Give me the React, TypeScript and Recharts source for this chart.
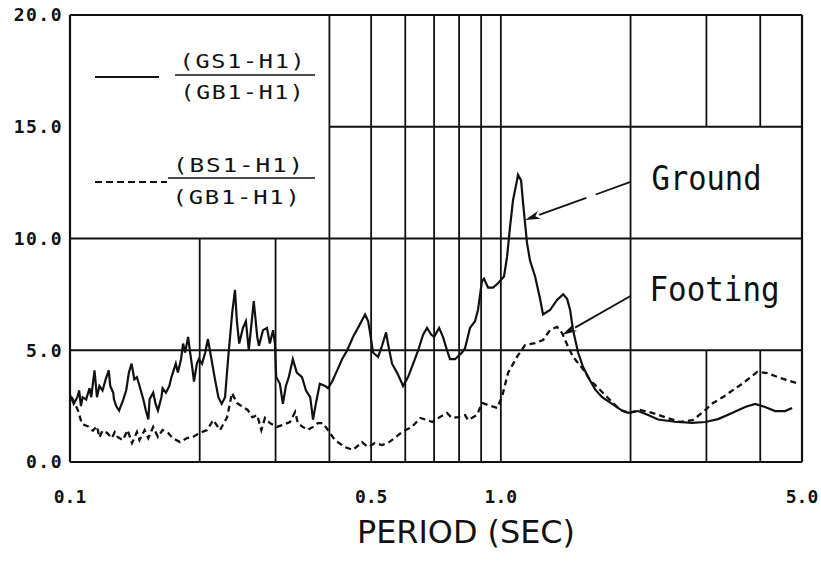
import React from 'react';
import { LineChart, Line, XAxis, YAxis, ReferenceLine, ReferenceArea } from 'recharts';

// ---- data ----
const GROUND_PERIOD = [
  0.1, 0.102, 0.104, 0.105, 0.106, 0.107, 0.109, 0.111, 0.112, 0.114, 0.1155, 0.117, 0.119, 0.121, 0.123, 0.124,
  0.126, 0.1265, 0.128, 0.13, 0.133, 0.135, 0.137, 0.139, 0.141, 0.143, 0.145, 0.148, 0.15, 0.152, 0.153, 0.156,
  0.158, 0.16, 0.163, 0.164, 0.167, 0.17, 0.172, 0.174, 0.176, 0.178, 0.181, 0.183, 0.185, 0.188, 0.19, 0.192,
  0.194, 0.197, 0.199, 0.2025, 0.206, 0.209, 0.2125, 0.217, 0.221, 0.225, 0.229, 0.233, 0.238, 0.2415, 0.244,
  0.247, 0.252, 0.256, 0.26, 0.267, 0.272, 0.2745, 0.2805, 0.2865, 0.291, 0.296, 0.299, 0.301, 0.307, 0.312,
  0.317, 0.322, 0.329, 0.336, 0.3455, 0.353, 0.361, 0.3665, 0.372, 0.38, 0.391, 0.397, 0.406, 0.417, 0.428,
  0.44, 0.454, 0.466, 0.484, 0.492, 0.497, 0.505, 0.519, 0.53, 0.5415, 0.547, 0.559, 0.574, 0.587, 0.593,
  0.609, 0.626, 0.643, 0.66, 0.674, 0.689, 0.7, 0.719, 0.734, 0.75, 0.762, 0.783, 0.8126, 0.826, 0.848, 0.871,
  0.885, 0.904, 0.914, 0.934, 0.959, 0.985, 1.017, 1.034, 1.05, 1.067, 1.09, 1.096, 1.114, 1.126, 1.15, 1.169,
  1.201, 1.233, 1.253, 1.301, 1.35, 1.395, 1.425, 1.448, 1.471, 1.511, 1.552, 1.594, 1.655, 1.718, 1.812,
  1.911, 1.974, 2.082, 2.197, 2.317, 2.538, 2.779, 2.979, 3.193, 3.441, 3.689, 3.892, 4.105, 4.33, 4.568, 4.742,
];
const GROUND_RATIO = [
  3.0, 2.6, 2.9, 3.2, 2.5, 2.9, 2.8, 3.3, 2.9, 4.1, 2.9, 3.4, 3.2, 3.7, 4.1, 3.4,
  3.1, 2.8, 2.5, 2.3, 2.8, 3.2, 4.0, 4.4, 3.7, 3.8, 3.4, 2.8, 2.3, 1.9, 2.8, 3.1,
  2.6, 2.3, 2.9, 3.3, 3.1, 3.4, 3.8, 4.1, 4.4, 4.0, 4.6, 5.3, 4.9, 5.6, 4.9, 4.3,
  3.6, 4.4, 4.6, 4.4, 4.9, 5.5, 4.7, 3.7, 2.9, 2.6, 2.9, 4.7, 6.7, 7.7, 6.3,
  5.3, 6.0, 6.3, 5.0, 7.2, 5.6, 5.2, 5.9, 6.0, 5.3, 5.9, 5.3, 3.8, 3.5, 2.6,
  3.4, 3.8, 4.6, 4.0, 3.8, 3.2, 2.9, 1.9, 2.6, 3.5, 3.4, 3.3, 3.6, 4.1, 4.6,
  5.0, 5.6, 6.0, 6.6, 6.3, 5.8, 4.9, 4.7, 5.2, 5.8, 5.3, 4.4, 4.0, 3.6, 3.4,
  3.8, 4.4, 5.0, 5.7, 6.0, 5.7, 5.6, 6.0, 5.6, 5.0, 4.6, 4.6, 4.9, 5.1, 6.0, 6.3,
  6.8, 8.1, 8.2, 7.8, 7.8, 8.0, 8.3, 9.2, 10.5, 11.7, 12.6, 12.85, 12.6, 11.6, 9.8, 9.0,
  8.3, 7.3, 6.6, 6.8, 7.25, 7.5, 7.3, 6.8, 5.9, 4.9, 4.25, 3.8, 3.25, 2.9, 2.6,
  2.3, 2.2, 2.28, 2.1, 1.9, 1.8, 1.75, 1.79, 1.92, 2.19, 2.46, 2.6, 2.46, 2.28, 2.28, 2.42,
];
const FOOTING_PERIOD = [
  0.101, 0.1044, 0.1066, 0.11, 0.113, 0.1155, 0.117, 0.119, 0.122, 0.125, 0.127, 0.129, 0.1327, 0.136, 0.1393,
  0.143, 0.145, 0.149, 0.152, 0.156, 0.16, 0.164, 0.169, 0.173, 0.18, 0.187, 0.193, 0.2, 0.208, 0.215, 0.223,
  0.2315, 0.2377, 0.244, 0.252, 0.2585, 0.265, 0.272, 0.278, 0.2835, 0.291, 0.302, 0.312, 0.324, 0.333, 0.338,
  0.347, 0.356, 0.3665, 0.376, 0.386, 0.397, 0.412, 0.434, 0.454, 0.476, 0.4915, 0.51, 0.53, 0.547, 0.567,
  0.5895, 0.622, 0.65, 0.674, 0.693, 0.722, 0.75, 0.77, 0.795, 0.826, 0.839, 0.8805, 0.904, 0.934, 0.98,
  1.006, 1.039, 1.09, 1.138, 1.2006, 1.253, 1.301, 1.35, 1.387, 1.433, 1.471, 1.544, 1.611, 1.764, 1.891,
  1.984, 2.104, 2.256, 2.431, 2.606, 2.794, 2.947, 3.109, 3.28, 3.459, 3.649, 3.934, 4.15, 4.447, 4.871,
];
const FOOTING_RATIO = [
  2.9, 2.3, 1.7, 1.6, 1.4, 1.6, 1.1, 1.4, 1.3, 1.07, 1.34, 1.12, 0.98, 1.43, 0.85,
  1.34, 0.98, 1.43, 1.07, 1.57, 1.12, 1.43, 1.3, 1.07, 0.89, 1.07, 1.12, 1.3, 1.43, 1.88, 1.43,
  2.0, 3.09, 2.64, 2.46, 2.33, 2.0, 2.1, 1.43, 1.97, 1.74, 1.57, 1.66, 1.79, 2.24, 1.74,
  1.57, 1.43, 1.57, 1.74, 1.74, 1.43, 0.98, 0.67, 0.54, 0.89, 0.67, 0.85, 0.76, 0.85, 1.07,
  1.34, 1.57, 1.97, 1.88, 1.79, 2.01, 2.19, 1.97, 2.01, 2.1, 1.88, 2.1, 2.64, 2.55, 2.42,
  2.91, 3.98, 4.7, 5.23, 5.32, 5.46, 5.91, 6.04, 5.77, 5.15, 4.7, 4.21, 3.67, 2.91, 2.33,
  2.19, 2.33, 2.19, 1.97, 1.79, 1.88, 2.24, 2.64, 2.91, 3.22, 3.53, 4.03, 3.98, 3.76, 3.53,
];
const X_TICKS = [0.1, 0.5, 1.0, 5.0];
const Y_TICKS = [0, 5, 10, 15, 20];
const LEGEND_GROUND = ['(GS1-H1)', '(GB1-H1)'];
const LEGEND_FOOTING = ['(BS1-H1)', '(GB1-H1)'];
const X_TITLE = 'PERIOD (SEC)';
const ANNOT_GROUND = 'Ground';
const ANNOT_FOOTING = 'Footing';

// grid layout (hand-drawn paper grid)
const V_FULL = [0.4, 0.5, 0.6, 0.7, 0.8, 0.9, 1.0, 2.0];
const V_LOWER = [0.2, 0.3];
const V_SPLIT = [3.0, 4.0];

const groundData = GROUND_PERIOD.map((p, i) => ({ period: p, value: GROUND_RATIO[i] }));
const footingData = FOOTING_PERIOD.map((p, i) => ({ period: p, value: FOOTING_RATIO[i] }));

const MONO = '"DejaVu Sans Mono", monospace';
const INK = '#111';
const GRID_W = 1.8;

const XTick = (props: any) => {
  const { x, y, payload } = props;
  return (
    <text x={x} y={y + 33} textAnchor="middle" fontFamily={MONO} fontSize={18} fontWeight="bold" fill={INK}>
      {Number(payload.value).toFixed(1)}
    </text>
  );
};

const YTick = (props: any) => {
  const { x, y, payload } = props;
  return (
    <text x={x + 1} y={y} dy="0.36em" textAnchor="end" fontFamily={MONO} fontSize={18} fontWeight="bold" fill={INK} letterSpacing={1.5}>
      {Number(payload.value).toFixed(1)}
    </text>
  );
};

const TitleLabel = (props: any) => {
  const vb = props.viewBox || { x: 0, y: 0 };
  return (
    <text x={vb.x + 396} y={vb.y + 81} textAnchor="middle" fontFamily='"DejaVu Sans", sans-serif' fontSize={32}
      textLength={218} lengthAdjust="spacingAndGlyphs" fill={INK}>
      {X_TITLE}
    </text>
  );
};

const LegendBlock = (props: any) => {
  const vb = props.viewBox || { x: 0, y: 0 };
  const x0 = vb.x;
  const y0 = vb.y;
  const t = {
    fontFamily: MONO, fontSize: 20, fill: INK, textAnchor: 'middle' as const,
    letterSpacing: 1.5, lengthAdjust: 'spacingAndGlyphs',
  };
  return (
    <g>
      <line x1={x0 + 25} y1={y0 + 62} x2={x0 + 89} y2={y0 + 62} stroke={INK} strokeWidth={2} />
      <text x={x0 + 173} y={y0 + 53} {...t} textLength={127}>{LEGEND_GROUND[0]}</text>
      <line x1={x0 + 105} y1={y0 + 60} x2={x0 + 245} y2={y0 + 60} stroke={INK} strokeWidth={1.5} />
      <text x={x0 + 173} y={y0 + 84} {...t} textLength={125}>{LEGEND_GROUND[1]}</text>

      <line x1={x0 + 25} y1={y0 + 167} x2={x0 + 97} y2={y0 + 167} stroke={INK} strokeWidth={2} strokeDasharray="7 4" />
      <text x={x0 + 169} y={y0 + 157} {...t} textLength={132}>{LEGEND_FOOTING[0]}</text>
      <line x1={x0 + 98} y1={y0 + 163} x2={x0 + 245} y2={y0 + 163} stroke={INK} strokeWidth={1.5} />
      <text x={x0 + 167} y={y0 + 189} {...t} textLength={129}>{LEGEND_FOOTING[1]}</text>
    </g>
  );
};

const BoxText = (text: string, dx: number, dy: number, len: number) => (props: any) => {
  const vb = props.viewBox || { x: 0, y: 0 };
  return (
    <text x={vb.x + dx} y={vb.y + dy} fontFamily={MONO} fontSize={33} fill={INK}
      textLength={len} lengthAdjust="spacingAndGlyphs">
      {text}
    </text>
  );
};

const Arrow = (dash?: string) => (props: any) => {
  const { x1, y1, x2, y2 } = props;
  const ang = Math.atan2(y2 - y1, x2 - x1);
  const L = 15;
  const W = 4;
  const bx = x2 - L * Math.cos(ang);
  const by = y2 - L * Math.sin(ang);
  const px = -Math.sin(ang) * W;
  const py = Math.cos(ang) * W;
  return (
    <g>
      <line x1={x1} y1={y1} x2={bx} y2={by} stroke={INK} strokeWidth={1.8} strokeDasharray={dash} />
      <polygon points={`${x2},${y2} ${bx + px},${by + py} ${bx + 4 * Math.cos(ang)},${by + 4 * Math.sin(ang)} ${bx - px},${by - py}`} fill={INK} />
    </g>
  );
};

export default function App() {
  return (
    <div style={{ position: 'absolute', left: 0, top: 0, width: 821, height: 562 }}>
      <LineChart width={821} height={562} margin={{ top: 15, right: 19, bottom: 0, left: 0 }}>
        <XAxis
          type="number"
          dataKey="period"
          scale="log"
          domain={[0.1, 5]}
          ticks={X_TICKS}
          allowDataOverflow
          axisLine={false}
          tickLine={false}
          height={100}
          tick={<XTick />}
          label={<TitleLabel />}
          interval={0}
        />
        <YAxis
          type="number"
          domain={[0, 20]}
          ticks={Y_TICKS}
          width={70}
          axisLine={false}
          tickLine={false}
          tick={<YTick />}
          interval={0}
        />

        {/* paper grid */}
        {V_FULL.map((v) => (
          <ReferenceLine key={'vf' + v} segment={[{ x: v, y: 0 }, { x: v, y: 20 }]} stroke={INK} strokeWidth={GRID_W} ifOverflow="visible" />
        ))}
        {V_LOWER.map((v) => (
          <ReferenceLine key={'vl' + v} segment={[{ x: v, y: 0 }, { x: v, y: 10 }]} stroke={INK} strokeWidth={GRID_W} ifOverflow="visible" />
        ))}
        {V_SPLIT.map((v) => (
          <ReferenceLine key={'vs1' + v} segment={[{ x: v, y: 0 }, { x: v, y: 5 }]} stroke={INK} strokeWidth={GRID_W} ifOverflow="visible" />
        ))}
        {V_SPLIT.map((v) => (
          <ReferenceLine key={'vs2' + v} segment={[{ x: v, y: 15 }, { x: v, y: 20 }]} stroke={INK} strokeWidth={GRID_W} ifOverflow="visible" />
        ))}
        <ReferenceLine segment={[{ x: 0.1, y: 5 }, { x: 5, y: 5 }]} stroke={INK} strokeWidth={GRID_W} ifOverflow="visible" />
        <ReferenceLine segment={[{ x: 0.1, y: 10 }, { x: 5, y: 10 }]} stroke={INK} strokeWidth={GRID_W} ifOverflow="visible" />
        <ReferenceLine segment={[{ x: 0.4, y: 15 }, { x: 5, y: 15 }]} stroke={INK} strokeWidth={GRID_W} ifOverflow="visible" />
        {/* frame */}
        <ReferenceLine segment={[{ x: 0.1, y: 0 }, { x: 5, y: 0 }]} stroke={INK} strokeWidth={2.2} ifOverflow="visible" />
        <ReferenceLine segment={[{ x: 0.1, y: 20 }, { x: 5, y: 20 }]} stroke={INK} strokeWidth={2.2} ifOverflow="visible" />
        <ReferenceLine segment={[{ x: 0.1, y: 0 }, { x: 0.1, y: 20 }]} stroke={INK} strokeWidth={2.2} ifOverflow="visible" />
        <ReferenceLine segment={[{ x: 5, y: 0 }, { x: 5, y: 20 }]} stroke={INK} strokeWidth={2.2} ifOverflow="visible" />

        {/* legend box and annotation boxes */}
        <ReferenceArea x1={0.1} x2={0.4} y1={10} y2={20} fill="#fff" fillOpacity={0} stroke="none" ifOverflow="visible" label={<LegendBlock />} />
        <ReferenceArea x1={2} x2={5} y1={10} y2={15} fill="#fff" fillOpacity={0} stroke="none" ifOverflow="visible" label={BoxText(ANNOT_GROUND, 21, 63, 110)} />
        <ReferenceArea x1={2} x2={5} y1={5} y2={10} fill="#fff" fillOpacity={0} stroke="none" ifOverflow="visible" label={BoxText(ANNOT_FOOTING, 19, 62, 130)} />

        <Line data={footingData} dataKey="value" type="linear" stroke={INK} strokeWidth={2.3} strokeDasharray="6 4" dot={false} isAnimationActive={false} />
        <Line data={groundData} dataKey="value" type="linear" stroke={INK} strokeWidth={2.2} dot={false} isAnimationActive={false} />

        <ReferenceLine segment={[{ x: 2.0, y: 12.53 }, { x: 1.138, y: 10.83 }]} ifOverflow="visible" shape={Arrow('37 10 300')} />
        <ReferenceLine segment={[{ x: 2.0, y: 7.43 }, { x: 1.387, y: 5.68 }]} ifOverflow="visible" shape={Arrow()} />
      </LineChart>
    </div>
  );
}
